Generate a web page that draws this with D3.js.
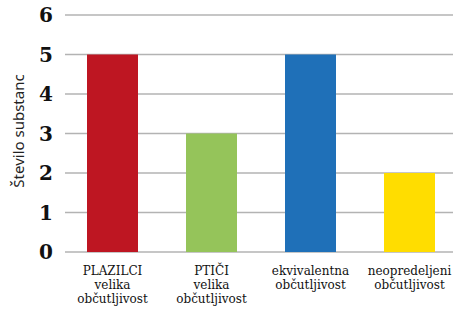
<!DOCTYPE html>
<html>
<head>
<meta charset="utf-8">
<script src="https://cdn.jsdelivr.net/npm/d3@7"></script>
<style>
  body { margin: 0; background: #fff; }
  .grid line { stroke: #b3b3b3; stroke-width: 1.5; }
  .ytick { font-family: "DejaVu Serif", serif; font-weight: bold; font-size: 20px; fill: #111; }
  .xlab { font-family: "DejaVu Serif", serif; font-size: 12px; fill: #111; }
  .ytitle { font-family: "Noto Sans", sans-serif; font-size: 15px; fill: #222; }
</style>
</head>
<body>
<div id="chart"></div>
<script>
const categories = ['PLAZILCI velika', 'PTIČI velika', 'ekvivalentna', 'neopredeljeni'];
const labelLines = [
  ['PLAZILCI', 'velika', 'občutljivost'],
  ['PTIČI', 'velika', 'občutljivost'],
  ['ekvivalentna', 'občutljivost'],
  ['neopredeljeni', 'občutljivost']
];
const values = [5, 3, 5, 2];
const colors = ['#be1622', '#95c45a', '#1f70b8', '#ffdd00'];
const yTicks = [0, 1, 2, 3, 4, 5, 6];
const yTitle = 'Število substanc';

const width = 453, height = 311;
const svg = d3.select('#chart').append('svg')
  .attr('width', width).attr('height', height);

const x = d3.scaleBand().domain(categories).range([63, 459])
  .paddingInner(0.485).paddingOuter(0.2425);
const y = d3.scaleLinear().domain([0, 6]).range([252, 15]);

// gridlines
svg.append('g').attr('class', 'grid')
  .selectAll('line').data(yTicks).enter().append('line')
  .attr('x1', 65).attr('x2', width)
  .attr('y1', d => y(d)).attr('y2', d => y(d));

// bars
svg.selectAll('.bar').data(values).enter().append('rect')
  .attr('class', 'bar')
  .attr('x', (d, i) => x(categories[i]))
  .attr('width', x.bandwidth())
  .attr('y', d => y(d))
  .attr('height', d => y(0) - y(d))
  .attr('fill', (d, i) => colors[i]);

// y tick labels
svg.selectAll('.ytick').data(yTicks).enter().append('text')
  .attr('class', 'ytick')
  .attr('x', 53).attr('y', d => y(d))
  .attr('dy', '0.36em')
  .attr('text-anchor', 'end')
  .text(d => d);

// category labels
const xl = svg.selectAll('.xlab').data(labelLines).enter().append('text')
  .attr('class', 'xlab')
  .attr('text-anchor', 'middle')
  .attr('transform', (d, i) => `translate(${x(categories[i]) + x.bandwidth() / 2},275)`);
xl.selectAll('tspan').data(d => d).enter().append('tspan')
  .attr('x', 0).attr('y', (d, i) => i * 14)
  .text(d => d);

// y title
svg.append('text').attr('class', 'ytitle')
  .attr('transform', 'translate(24,131) rotate(-90)')
  .attr('text-anchor', 'middle')
  .text(yTitle);
</script>
</body>
</html>
